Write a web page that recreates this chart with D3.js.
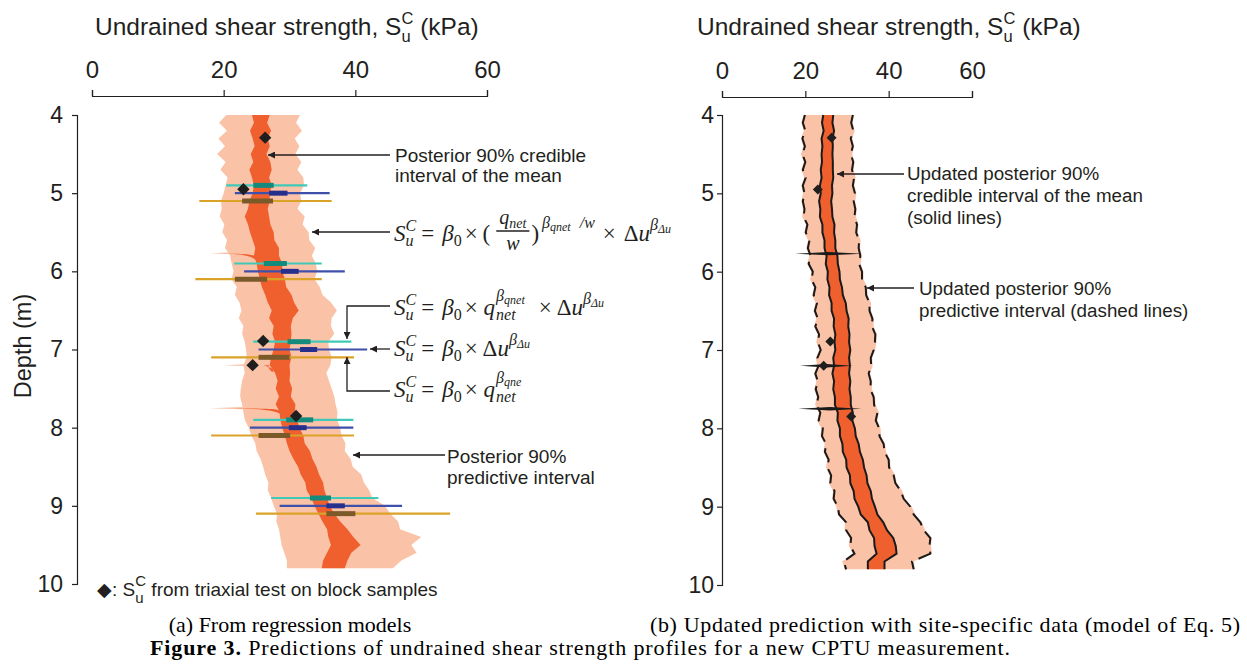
<!DOCTYPE html>
<html><head><meta charset="utf-8">
<script src="https://cdn.jsdelivr.net/npm/d3@7"></script>
<style>body{margin:0;background:#fff} svg{display:block} text{white-space:pre}</style>
</head><body>
<svg id="c" width="1247" height="666"></svg>
<script>
// ---------------- DATA ----------------
const depths = [4.0,4.1,4.2,4.3,4.4,4.5,4.6,4.7,4.8,4.9,
  5.0,5.1,5.2,5.3,5.4,5.5,5.6,5.7,5.8,5.9,
  6.0,6.1,6.2,6.3,6.4,6.5,6.6,6.7,6.8,6.9,
  7.0,7.1,7.2,7.3,7.4,7.5,7.6,7.7,7.8,7.9,
  8.0,8.1,8.2,8.3,8.4,8.5,8.6,8.7,8.8,8.9,
  9.0,9.1,9.2,9.3,9.4,9.5,9.6,9.7,9.8];

// (a) regression model: 90% predictive interval and 90% credible interval of the mean (kPa)
const predLoA = [20.4,19.3,20.5,19.2,20.2,19.0,20.3,19.5,20.6,20.3,
  20.0,19.6,19.7,19.4,20.1,19.8,20.5,20.2,21.0,21.2,
  21.5,21.2,22.0,21.7,22.4,22.7,22.3,23.0,22.8,23.2,
  23.4,23.5,23.0,23.2,22.8,22.6,22.5,22.8,23.0,23.2,
  23.8,24.2,24.8,25.0,25.6,26.0,26.3,26.8,26.7,27.2,
  27.6,28.1,28.0,28.4,28.6,28.8,29.2,29.6,29.6];
const predHiA = [31.6,31.0,31.9,30.8,31.5,30.9,31.8,31.2,32.1,32.2,
  31.6,31.8,31.2,32.3,32.0,32.9,33.0,33.9,33.4,34.0,
  34.2,33.8,34.6,35.0,36.3,37.2,36.4,36.3,36.8,35.9,
  36.0,36.4,36.2,35.6,36.0,36.4,36.8,37.0,37.3,37.2,
  37.7,37.9,38.5,38.4,39.3,39.6,40.9,41.3,42.1,42.6,
  44.5,45.3,46.5,46.8,50.0,48.5,49.3,47.0,45.7];
const meanLoA = [24.3,24.6,24.0,24.4,24.7,24.1,24.5,23.9,24.3,24.6,
  24.4,23.9,23.7,23.2,23.7,24.0,24.4,24.8,24.6,25.0,
  25.2,25.5,25.8,26.3,26.7,27.3,26.9,27.6,27.4,27.8,
  27.6,27.2,27.0,27.8,28.2,27.9,28.4,27.9,28.5,28.6,
  28.9,29.3,29.6,30.0,30.6,31.3,31.7,32.4,32.6,33.3,
  33.8,34.4,35.0,35.7,35.9,36.3,35.7,35.1,34.9];
const meanHiA = [27.0,26.6,27.2,26.7,27.0,26.5,27.1,27.3,26.9,27.3,
  27.0,27.0,26.7,26.9,27.1,27.6,27.7,28.4,28.4,28.9,
  28.9,29.3,29.5,30.3,30.7,31.4,30.5,30.2,30.3,30.2,
  30.0,30.3,30.0,30.1,30.0,30.4,30.2,30.9,30.8,31.2,
  31.5,32.1,32.3,33.1,33.5,34.1,34.5,35.1,35.3,35.7,
  36.1,36.8,37.7,38.8,39.7,40.8,39.4,38.8,38.4];

// (b) updated prediction
const predLoB = [19.9,19.4,20.0,19.3,19.9,19.3,20.0,19.4,20.1,19.4,
  19.8,19.4,19.8,19.6,20.5,20.1,21.0,20.6,21.3,20.8,
  21.8,21.5,22.4,22.0,22.8,22.3,23.0,22.4,23.3,23.0,
  23.7,22.9,23.2,22.4,23.0,22.5,23.1,22.7,23.6,23.2,
  24.2,24.0,25.0,24.7,25.6,25.3,26.2,26.0,27.0,26.8,
  27.8,28.1,29.8,29.8,31.0,30.8,31.8,29.2,29.8];
const predHiB = [31.4,31.0,31.5,30.9,31.4,30.9,31.5,31.2,31.7,31.4,
  31.9,31.6,32.0,31.8,32.4,32.2,32.9,32.8,33.2,32.9,
  33.6,33.6,34.5,34.6,35.4,35.4,36.1,36.0,36.8,36.7,
  36.4,35.7,35.8,35.2,35.7,35.6,36.4,36.5,37.3,36.9,
  37.7,37.8,38.8,39.0,40.0,40.1,41.2,41.6,42.9,43.6,
  45.2,46.0,47.6,48.4,50.0,49.8,50.0,45.6,46.0];
const meanLoB = [24.3,24.0,24.4,23.9,24.1,23.9,24.0,23.7,23.9,23.5,
  23.7,23.3,23.6,23.5,24.1,24.1,24.6,24.6,25.1,24.9,
  25.4,25.3,25.8,25.7,26.3,26.3,26.9,26.8,27.2,27.0,
  27.2,26.7,26.9,26.5,26.9,26.7,27.1,27.1,27.8,27.7,
  28.3,28.3,28.9,29.0,29.8,29.9,30.7,30.8,31.6,31.8,
  32.7,33.3,35.0,35.4,36.5,36.6,37.1,35.0,35.0];
const meanHiB = [26.7,26.5,26.9,26.5,26.6,26.5,26.6,26.6,26.7,26.4,
  26.5,26.2,26.4,26.5,27.0,26.9,27.2,27.2,27.7,27.8,
  28.2,28.3,28.8,29.0,29.7,29.9,30.4,30.3,30.6,30.5,
  30.8,30.5,30.7,30.5,30.8,30.6,30.9,30.9,31.4,31.3,
  31.9,32.1,32.8,33.1,33.8,34.1,34.7,34.9,35.7,36.0,
  36.7,37.3,38.7,39.6,41.1,41.7,41.9,39.0,39.0];

// layer boundaries (slivers)
const boundaryDepth = [5.77, 7.20, 7.75];
const boundaryLoA = [17.9, 19.9, 17.9];
const boundaryHiA = [34.1, 36.2, 37.2];
const boundaryMeanLoA = [19.5, 27.0, 21.4];
const boundaryLoB = [17.5, 18.7, 18.3];
const boundaryHiB = [33.8, 31.4, 33.5];

// triaxial tests on block samples
const triaxDepth = [4.29, 4.95, 6.89, 7.20, 7.85];
const triaxSu = [26.3, 23.0, 26.0, 24.4, 31.0];

// other regression models, at five depths
const barDepth = [5, 6, 7, 8, 9];
const modelNames = ["qnet & du", "du", "qnet"];
const modelOffset = [-0.1, 0, 0.1];
const predLoM = [[20.4,21.6,24.5,24.5,27.2],[21.7,23.1,25.3,24.0,28.5],[16.3,15.7,18.1,18.1,24.9]];
const predHiM = [[32.7,34.9,39.4,39.7,43.5],[36.1,38.4,41.8,39.7,47.1],[36.4,34.9,39.8,39.8,54.4]];
const meanLoM = [[24.5,26.1,29.7,29.5,33.1],[26.9,28.7,31.6,29.9,35.6],[22.8,21.7,25.3,25.3,35.6]];
const meanHiM = [[27.6,29.6,33.2,33.6,36.3],[29.7,31.4,34.2,32.6,38.4],[27.5,26.6,30.0,30.1,40.0]];
const thinColor = ["#3fc9b6", "#3e50aa", "#dba228"];
const thickColor = ["#138a7b", "#272f8c", "#7b5a2a"];

const xTicks = [0, 20, 40, 60];
const yTicks = [4, 5, 6, 7, 8, 9, 10];

// ---------------- DRAW ----------------
const svg = d3.select("#c");
const INK = "#231f20";
const LIGHT = "#fac3a8", DARK = "#f0602f";
const SANS = "'Liberation Sans', Arial, sans-serif";
const SERIF = "'Liberation Serif', 'Times New Roman', serif";

const xA = d3.scaleLinear([0, 60], [92, 487]);
const yA = d3.scaleLinear([4, 10], [115, 584]);
const xB = d3.scaleLinear([0, 60], [722, 972]);
const yB = d3.scaleLinear([4, 10], [115, 585]);

const defs = svg.append("defs");
defs.append("marker").attr("id", "ah").attr("viewBox", "0 0 10 10")
  .attr("refX", 10).attr("refY", 5).attr("markerWidth", 9).attr("markerHeight", 7)
  .attr("markerUnits", "userSpaceOnUse").attr("orient", "auto")
  .append("path").attr("d", "M0,0 L10,5 L0,10 Z").attr("fill", INK);

// rich text helper
function drawPieces(g, x, y, pieces, fam) {
  let cx = x;
  pieces.forEach(p => {
    if (p.gap !== undefined) { cx += p.gap; return; }
    if (p.stack) {
      const ends = p.stack.map(grp => drawPieces(g, cx, y, grp, fam));
      cx = Math.max(...ends);
    } else if (p.frac) {
      const nEnd = drawPieces(g, cx + 3, y - 17, p.num, fam);
      const w = nEnd - cx + 3;
      g.append("text").attr("x", cx + w / 2).attr("y", y + 9)
        .attr("text-anchor", "middle").attr("font-size", 20).attr("font-style", "italic")
        .attr("font-family", fam).attr("fill", INK).text(p.den);
      g.append("line").attr("x1", cx).attr("x2", cx + w).attr("y1", y - 10).attr("y2", y - 10)
        .attr("stroke", INK).attr("stroke-width", 1.5);
      cx += w;
    } else {
      const t = g.append("text").attr("x", cx).attr("y", y + (p.dy || 0))
        .attr("font-size", p.s).attr("font-style", p.it ? "italic" : "normal")
        .attr("font-family", fam).attr("fill", INK).attr("xml:space", "preserve").text(p.t);
      cx += t.node().getComputedTextLength();
    }
  });
  return cx;
}

function axes(x, y, yAxisX, xAxisY, tickPad) {
  const gx = svg.append("g").attr("transform", `translate(0,${xAxisY})`)
    .call(d3.axisTop(x).tickValues(xTicks).tickSize(6).tickSizeOuter(6).tickPadding(12));
  gx.selectAll("text").attr("font-size", 24).attr("font-family", SANS).attr("fill", INK);
  gx.selectAll("line,path").attr("stroke", INK).attr("stroke-width", 1.2);
  const gy = svg.append("g").attr("transform", `translate(${yAxisX},0)`)
    .call(d3.axisLeft(y).tickValues(yTicks).tickFormat(d3.format("d")).tickSize(5).tickSizeOuter(5).tickPadding(tickPad));
  gy.selectAll("text").attr("font-size", 23).attr("font-family", SANS).attr("fill", INK);
  gy.selectAll("line,path").attr("stroke", INK).attr("stroke-width", 1.2);
}

function xTitle(x0) {
  const g = svg.append("g");
  drawPieces(g, x0, 35, [
    {t: "Undrained shear strength, S", s: 24.5},
    {stack: [[{t: "C", s: 16.5, dy: -11}], [{t: "u", s: 16.5, dy: 7}]]},
    {t: " (kPa)", s: 24.5}
  ], SANS);
}

const rows = depths.map((d, i) => ({d, i}));

// ---------- panel (a) ----------
axes(xA, yA, 77, 96, 9);
xTitle(95);
svg.append("text").attr("transform", "translate(31,346) rotate(-90)").attr("text-anchor", "middle")
  .attr("font-size", 23.5).attr("font-family", SANS).attr("fill", INK).text("Depth (m)");

const gA = svg.append("g");
gA.append("path").datum(rows).attr("fill", LIGHT)
  .attr("d", d3.area().y(r => yA(r.d)).x0(r => xA(predLoA[r.i])).x1(r => xA(predHiA[r.i])));
boundaryDepth.forEach((d, i) => {
  const lo = boundaryLoA[i], hi = boundaryHiA[i], mid = (lo + hi) / 2;
  gA.append("path").attr("fill", LIGHT)
    .attr("d", d3.line()([[xA(lo), yA(d)], [xA(mid), yA(d - 0.03)], [xA(hi), yA(d)], [xA(mid), yA(d + 0.03)]]) + "Z");
});
gA.append("path").datum(rows).attr("fill", DARK)
  .attr("d", d3.area().y(r => yA(r.d)).x0(r => xA(meanLoA[r.i])).x1(r => xA(meanHiA[r.i])));
boundaryDepth.forEach((d, i) => {
  const lo = boundaryMeanLoA[i], tip = meanLoA[Math.round((d - 4) * 10)] + 0.6;
  gA.append("path").attr("fill", DARK)
    .attr("d", d3.line().curve(d3.curveBasis)([[xA(lo), yA(d)], [xA(tip - 1), yA(d + 0.02)], [xA(tip), yA(d + 0.12)], [xA(tip), yA(d + 0.03)], [xA(tip - 2), yA(d + 0.005)], [xA(lo), yA(d)]]) + "Z");
});

// other models' bars
modelNames.forEach((m, k) => {
  barDepth.forEach((d, i) => {
    const yy = yA(d + modelOffset[k]);
    gA.append("line").attr("x1", xA(predLoM[k][i])).attr("x2", xA(predHiM[k][i]))
      .attr("y1", yy).attr("y2", yy).attr("stroke", thinColor[k]).attr("stroke-width", 2.2);
    gA.append("line").attr("x1", xA(meanLoM[k][i])).attr("x2", xA(meanHiM[k][i]))
      .attr("y1", yy).attr("y2", yy).attr("stroke", thickColor[k]).attr("stroke-width", 5);
  });
});
const diamond = s => `M0,${-s}L${s},0L0,${s}L${-s},0Z`;
triaxDepth.forEach((d, i) => {
  gA.append("path").attr("d", diamond(6.2)).attr("fill", "#1e1e1e")
    .attr("transform", `translate(${xA(triaxSu[i])},${yA(d)})`);
});

// annotations (a)
function arrow(pts) {
  svg.append("path").attr("d", d3.line()(pts)).attr("fill", "none").attr("stroke", INK)
    .attr("stroke-width", 1.3).attr("marker-end", "url(#ah)");
}
function label(x, y, lines, size, lh) {
  lines.forEach((t, i) => svg.append("text").attr("x", x).attr("y", y + i * lh)
    .attr("font-size", size).attr("font-family", SANS).attr("fill", INK).text(t));
}
arrow([[390, 155], [268, 155]]);
label(395, 162, ["Posterior 90% credible", "interval of the mean"], 19, 20);
arrow([[390, 232], [312, 232]]);
arrow([[390, 306], [347, 306], [347, 339]]);
arrow([[390, 349], [370, 349]]);
arrow([[390, 391], [347, 391], [347, 357]]);
arrow([[445, 455], [353, 455]]);
label(447, 463, ["Posterior 90%", "predictive interval"], 19, 21);

const eq = svg.append("g");
const M = 23, SUP = 16, SS = 12;
const Su = [{t: "S", s: M, it: 1}, {stack: [[{t: "C", s: SUP, it: 1, dy: -10}], [{t: "u", s: SUP, it: 1, dy: 5}]]},
  {gap: 5}, {t: "=", s: M}, {gap: 8}, {t: "β", s: M, it: 1}, {t: "0", s: SUP, dy: 5}, {gap: 3}, {t: "×", s: M}];
const DuB = [{t: "Δ", s: M}, {t: "u", s: M, it: 1}, {t: "β", s: SUP, it: 1, dy: -11}, {t: "Δu", s: SS, it: 1, dy: -8}];
drawPieces(eq, 394, 241, [...Su, {gap: 5}, {t: "(", s: M}, {gap: 6},
  {frac: 1, num: [{t: "q", s: 20, it: 1}, {t: "net", s: 14, it: 1, dy: 4}], den: "w"},
  {gap: 2}, {t: ")", s: M}, {gap: 3}, {t: "β", s: SUP, it: 1, dy: -13}, {t: "qnet", s: SS, it: 1, dy: -10},
  {gap: 9}, {t: "/w", s: 16, it: 1, dy: -13}, {gap: 8}, {t: "×", s: M}, {gap: 8}, ...DuB], SERIF);
drawPieces(eq, 394, 315, [...Su, {gap: 6}, {t: "q", s: M, it: 1}, {gap: 1},
  {stack: [[{t: "β", s: SUP, it: 1, dy: -14}, {t: "qnet", s: SS, it: 1, dy: -11}], [{t: "net", s: SUP, it: 1, dy: 5}]]},
  {gap: 14}, {t: "×", s: M}, {gap: 5}, ...DuB], SERIF);
drawPieces(eq, 394, 356, [...Su, {gap: 5}, ...DuB], SERIF);
drawPieces(eq, 394, 397, [...Su, {gap: 6}, {t: "q", s: M, it: 1}, {gap: 1},
  {stack: [[{t: "β", s: SUP, it: 1, dy: -14}, {t: "qne", s: SS, it: 1, dy: -11}], [{t: "net", s: SUP, it: 1, dy: 5}]]}], SERIF);

// legend
const lg = svg.append("g");
drawPieces(lg, 97, 596, [{t: "◆: S", s: 19},
  {stack: [[{t: "C", s: 15, dy: -10}], [{t: "u", s: 15, dy: 7}]]},
  {t: " from triaxial test on block samples", s: 19}], SANS);

// ---------- panel (b) ----------
axes(xB, yB, 722, 97, 3);
xTitle(697);
const gB = svg.append("g");
gB.append("path").datum(rows).attr("fill", LIGHT)
  .attr("d", d3.area().y(r => yB(r.d)).x0(r => xB(predLoB[r.i]) - 1.5).x1(r => xB(predHiB[r.i]) + 1.5));
gB.append("path").datum(rows).attr("fill", DARK)
  .attr("d", d3.area().y(r => yB(r.d)).x0(r => xB(meanLoB[r.i])).x1(r => xB(meanHiB[r.i])));
[meanLoB, meanHiB].forEach(arr => gB.append("path").datum(rows).attr("fill", "none")
  .attr("stroke", "#1a1a1a").attr("stroke-width", 2)
  .attr("d", d3.line().x(r => xB(arr[r.i])).y(r => yB(r.d))));
[predLoB, predHiB].forEach(arr => gB.append("path").datum(rows).attr("fill", "none")
  .attr("stroke", "#1a1a1a").attr("stroke-width", 2).attr("stroke-dasharray", "15,7")
  .attr("d", d3.line().x(r => xB(arr[r.i])).y(r => yB(r.d))));
boundaryDepth.forEach((d, i) => {
  const lo = boundaryLoB[i], hi = boundaryHiB[i], mid = (lo + hi) / 2;
  gB.append("path").attr("fill", "#1a1a1a")
    .attr("d", d3.line()([[xB(lo), yB(d)], [xB(mid), yB(d - 0.022)], [xB(hi), yB(d)], [xB(mid), yB(d + 0.022)]]) + "Z");
});
triaxDepth.forEach((d, i) => {
  gB.append("path").attr("d", diamond(5)).attr("fill", "#1e1e1e")
    .attr("transform", `translate(${xB(triaxSu[i])},${yB(d)})`);
});
arrow([[904, 174], [837, 174]]);
label(907, 180, ["Updated posterior 90%", "credible interval of the mean", "(solid lines)"], 18.8, 22);
arrow([[914, 288], [867, 288]]);
label(919, 295, ["Updated posterior 90%", "predictive interval (dashed lines)"], 18.8, 22);

// ---------- captions ----------
const CAPS = 22;
svg.append("text").attr("x", 290).attr("y", 632).attr("text-anchor", "middle")
  .attr("font-size", CAPS).attr("font-family", SERIF).attr("fill", "#000").text("(a) From regression models");
svg.append("text").attr("x", 650).attr("y", 632).attr("textLength", 590).attr("lengthAdjust", "spacing")
  .attr("font-size", CAPS).attr("font-family", SERIF).attr("fill", "#000")
  .text("(b) Updated prediction with site-specific data (model of Eq. 5)");
const fc = svg.append("text").attr("x", 150).attr("y", 655).attr("textLength", 860).attr("lengthAdjust", "spacing")
  .attr("font-size", CAPS).attr("font-family", SERIF).attr("fill", "#000");
fc.append("tspan").attr("font-weight", "bold").text("Figure 3.");
fc.append("tspan").text(" Predictions of undrained shear strength profiles for a new CPTU measurement.");
</script>
</body></html>
